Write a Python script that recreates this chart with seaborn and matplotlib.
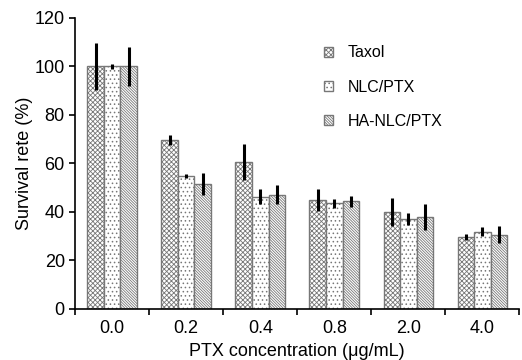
import numpy as np
import pandas as pd
import seaborn as sns
import matplotlib.pyplot as plt

concentrations = ["0.0", "0.2", "0.4", "0.8", "2.0", "4.0"]
groups = ["Taxol", "NLC/PTX", "HA-NLC/PTX"]
taxol = [100.0, 69.7, 60.6, 44.8, 39.9, 29.8]
nlc = [100.0, 54.8, 46.3, 43.6, 37.0, 31.9]
ha_nlc = [100.0, 51.5, 47.1, 44.3, 37.8, 30.5]
taxol_err = [9.5, 2.2, 7.3, 4.6, 5.7, 1.2]
nlc_err = [1.0, 0.7, 3.0, 1.8, 2.5, 2.0]
ha_nlc_err = [8.2, 4.7, 4.0, 2.4, 5.4, 3.5]

hatches = ["xxxxxxx", "....", "\\" * 12]

sns.set_style("ticks")
plt.rcParams["font.family"] = ["Liberation Sans", "DejaVu Sans"]
plt.rcParams["hatch.linewidth"] = 0.6
plt.rcParams["hatch.color"] = "#555555"
for key in ["text.color", "axes.labelcolor", "xtick.color", "ytick.color"]:
    plt.rcParams[key] = "black"

df = pd.DataFrame({
    "Concentration": concentrations * 3,
    "Group": np.repeat(groups, len(concentrations)),
    "Survival": taxol + nlc + ha_nlc,
})
errs = [taxol_err, nlc_err, ha_nlc_err]

fig = plt.figure(figsize=(5.22, 3.6), dpi=100)
ax = fig.add_axes([0.144, 0.142, 0.851, 0.808])
sns.barplot(data=df, x="Concentration", y="Survival", hue="Group",
            errorbar=None, width=0.67, ax=ax, gap=0)

def style_patch(p, hatch):
    p.set_facecolor("white")
    p.set_edgecolor("#777777")
    p.set_hatch(hatch)
    p.set_linewidth(1.0)

for cont, hatch, err in zip(ax.containers, hatches, errs):
    xs, ys = [], []
    for bar in cont.patches:
        style_patch(bar, hatch)
        xs.append(bar.get_x() + bar.get_width() / 2)
        ys.append(bar.get_height())
    ax.errorbar(xs, ys, yerr=err, fmt="none", ecolor="black",
                elinewidth=2.2, capsize=0, zorder=5)

ax.set_xlim(-0.5, 5.5)
ax.set_ylim(0, 120)
ax.set_yticks(range(0, 121, 20))
ax.set_xticks(range(len(concentrations)))
ax.set_xticklabels(concentrations)
ax.set_xticks(np.arange(-0.5, 5.6, 1), minor=True)
ax.tick_params(axis="x", which="major", length=0, labelsize=13, pad=8)
ax.tick_params(axis="x", which="minor", length=4, width=1.2, direction="out")
ax.tick_params(axis="y", length=4, width=1.2, labelsize=13, direction="out")
for side in ["left", "bottom"]:
    ax.spines[side].set_linewidth(1.2)
    ax.spines[side].set_color("black")
sns.despine(ax=ax, top=True, right=True)

ax.set_xlabel("PTX concentration (μg/mL)", fontsize=13, labelpad=4)
ax.set_ylabel("Survival rete (%)", fontsize=13, labelpad=1)

leg = ax.legend(loc="upper left", bbox_to_anchor=(0.528, 0.955), frameon=False,
                fontsize=11.5, handlelength=0.55, handleheight=0.55,
                labelspacing=1.2, handletextpad=0.9)
for h, hatch in zip(leg.legend_handles, hatches):
    style_patch(h, hatch)

fig.savefig("out.png", dpi=100)
